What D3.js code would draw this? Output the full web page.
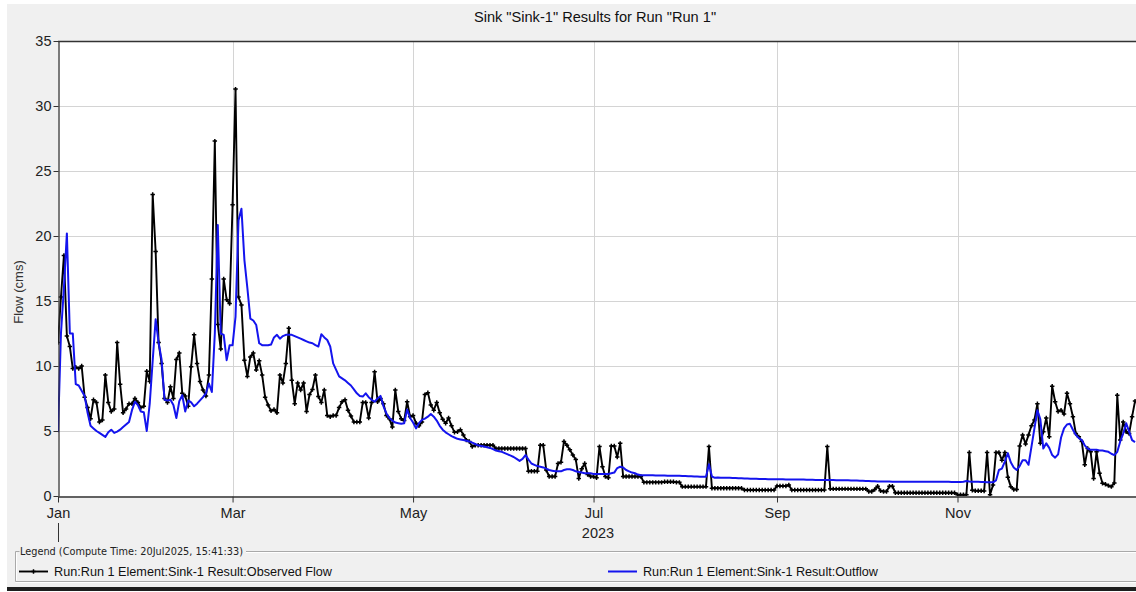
<!DOCTYPE html>
<html>
<head>
<meta charset="utf-8">
<script src="https://cdn.jsdelivr.net/npm/d3@7"></script>
<style>
html,body{margin:0;padding:0;background:#fff;overflow:hidden;}
svg{display:block;}
</style>
</head>
<body>
<svg id="chart" width="1136" height="592"></svg>
<script>
// ---------------- DATA ----------------
const startDate = "2023-01-01";   // first daily value
const titleText = 'Sink "Sink-1" Results for Run "Run 1"';
const yAxisLabel = "Flow (cms)";
const yearLabel = "2023";
const legendTitle = "Legend (Compute Time: 20Jul2025, 15:41:33)";
const seriesNames = ["Run:Run 1 Element:Sink-1 Result:Observed Flow", "Run:Run 1 Element:Sink-1 Result:Outflow"];
const monthTickLabels = ["Jan", "Mar", "May", "Jul", "Sep", "Nov"];
const yTickValues = [0, 5, 10, 15, 20, 25, 30, 35];

// Observed Flow (cms), daily from 1 Jan 2023
const observedFlow = [
  11.8, 15.3, 18.5, 12.3, 11.5, 9.8, 9.9, 9.8, 10.0, 7.6,
  6.8, 5.95, 7.4, 7.2, 5.7, 5.85, 9.3, 7.2, 6.5, 6.7,
  11.8, 8.6, 6.4, 6.7, 7.1, 7.1, 7.5, 7.2, 6.8, 6.9,
  9.6, 8.8, 23.2, 18.8, 11.8, 10.2, 7.5, 7.2, 8.4, 7.5,
  10.5, 11.0, 7.9, 7.7, 6.9, 9.95, 12.4, 10.2, 8.8, 8.15,
  7.7, 9.3, 16.7, 27.3, 13.2, 11.3, 16.7, 15.1, 14.8, 22.4,
  31.3, 15.3, 14.7, 10.45, 9.2, 10.7, 11.0, 9.7, 10.4, 9.3,
  7.6, 7.0, 6.55, 6.65, 6.4, 9.3, 8.7, 10.2, 12.9, 8.9,
  7.1, 8.7, 8.15, 8.7, 6.5, 7.8, 8.2, 9.3, 7.65, 7.2,
  8.15, 6.2, 6.1, 6.2, 6.2, 6.8, 7.25, 7.4, 6.6, 6.15,
  5.7, 5.7, 5.7, 7.2, 7.2, 6.0, 7.2, 9.55, 7.25, 7.5,
  7.1, 6.2, 5.95, 5.3, 8.15, 6.5, 5.95, 5.8, 7.25, 6.1,
  6.2, 5.6, 5.4, 5.7, 7.8, 7.95, 7.0, 6.6, 7.2, 6.4,
  5.9, 5.6, 6.0, 5.4, 4.9, 4.95, 5.1, 4.7, 4.3, 4.2,
  3.8, 3.9, 3.9, 3.9, 3.9, 3.9, 3.9, 3.9, 3.65, 3.65,
  3.65, 3.65, 3.65, 3.65, 3.65, 3.65, 3.65, 3.65, 3.65, 1.9,
  1.9, 1.9, 1.9, 3.9, 3.9, 2.0, 1.5, 1.5, 1.5, 2.5,
  2.6, 4.2, 3.9, 3.55, 3.15, 2.8, 1.35, 2.1, 2.5, 1.65,
  1.5, 1.5, 1.4, 3.8, 2.25, 1.5, 1.4, 3.85, 3.85, 3.0,
  4.05, 1.5, 1.5, 1.5, 1.5, 1.5, 1.5, 1.5, 1.05, 1.05,
  1.05, 1.05, 1.05, 1.05, 1.05, 1.1, 1.1, 1.1, 1.1, 1.05,
  1.05, 0.72, 0.72, 0.72, 0.72, 0.72, 0.72, 0.72, 0.72, 0.72,
  3.8, 0.6, 0.6, 0.6, 0.6, 0.6, 0.6, 0.6, 0.6, 0.6,
  0.6, 0.6, 0.46, 0.46, 0.46, 0.46, 0.46, 0.46, 0.46, 0.46,
  0.46, 0.46, 0.46, 0.77, 0.77, 0.77, 0.77, 0.85, 0.46, 0.46,
  0.46, 0.46, 0.46, 0.46, 0.46, 0.46, 0.46, 0.46, 0.46, 0.46,
  3.8, 0.55, 0.55, 0.55, 0.55, 0.55, 0.55, 0.55, 0.55, 0.55,
  0.55, 0.55, 0.55, 0.55, 0.35, 0.35, 0.5, 0.75, 0.4, 0.35,
  0.35, 0.75, 0.75, 0.25, 0.25, 0.25, 0.25, 0.25, 0.25, 0.25,
  0.25, 0.25, 0.25, 0.25, 0.25, 0.25, 0.25, 0.25, 0.25, 0.25,
  0.25, 0.25, 0.25, 0.25, 0.1, 0.1, 0.1, 0.1, 3.35, 0.45,
  0.4, 0.4, 0.4, 0.38, 3.35, 0.1, 0.85, 3.35, 3.35, 2.75,
  3.35, 1.45, 0.72, 0.5, 0.5, 3.85, 4.7, 4.0, 4.7, 5.4,
  5.85, 7.1, 4.05, 4.95, 6.0, 4.55, 8.45, 7.25, 6.5, 6.6,
  6.3, 7.9, 7.1, 6.1, 4.8, 4.55, 4.2, 2.4, 3.65, 3.4,
  1.35, 3.4, 1.75, 0.98, 0.9, 0.8, 0.72, 1.0, 7.75, 4.3,
  5.7, 4.95, 4.8, 6.1, 7.3
];

// Simulated Outflow (cms), daily from 1 Jan 2023
const outflow = [
  4.9, 12.5, 16.0, 20.2, 12.5, 12.5, 8.6, 8.5, 8.1, 7.7,
  6.4, 5.4, 5.2, 5.0, 4.85, 4.7, 4.55, 4.9, 5.1, 4.85,
  4.95, 5.1, 5.3, 5.5, 5.7, 6.6, 7.25, 7.0, 6.5, 6.45,
  5.0, 7.1, 10.4, 13.6, 11.8, 10.5, 7.4, 7.35, 7.4, 7.0,
  6.0, 7.3, 7.75, 6.5, 7.35, 7.2, 6.9, 7.1, 7.35, 7.6,
  7.9, 8.65, 8.0, 12.5, 20.85, 12.5, 12.4, 10.45, 11.6, 11.6,
  13.8, 21.2, 22.1, 18.15, 16.0, 13.65, 13.5, 13.15, 11.75, 11.6,
  11.6, 11.6, 11.65, 12.2, 12.4, 12.1, 12.3, 12.4, 12.4, 12.4,
  12.3, 12.2, 12.1, 12.0, 11.9, 11.8, 11.75, 11.6, 11.5, 12.45,
  12.2, 12.0, 11.5, 10.2, 9.7, 9.2, 9.05, 8.9, 8.7, 8.5,
  8.2, 7.9, 7.7, 7.65, 7.9, 7.6, 7.4, 7.25, 7.5, 7.7,
  6.9, 6.35, 6.0, 5.8, 5.65, 5.6, 5.55, 5.6, 6.65, 6.0,
  5.65, 5.2, 5.6, 5.85, 5.95, 6.1, 6.3, 6.1, 5.8, 5.4,
  5.1, 4.9, 4.75, 4.6, 4.5, 4.4, 4.35, 4.3, 4.25, 4.2,
  4.1, 4.0, 3.9, 3.85, 3.8, 3.75, 3.7, 3.6, 3.5, 3.45,
  3.4, 3.3, 3.2, 3.1, 3.0, 2.85, 2.7, 2.85, 3.15, 2.8,
  2.5, 2.4, 2.3, 2.25, 2.2, 2.1, 2.0, 1.95, 1.9, 1.9,
  1.9, 2.0, 2.05, 2.05, 2.0, 1.9, 1.85, 1.8, 1.75, 1.75,
  1.75, 1.7, 1.7, 1.7, 1.7, 1.7, 1.7, 1.75, 1.8, 2.15,
  2.25, 2.2, 2.0, 1.9, 1.8, 1.75, 1.65, 1.6, 1.6, 1.6,
  1.6, 1.6, 1.58, 1.58, 1.57, 1.57, 1.56, 1.56, 1.55, 1.55,
  1.55, 1.54, 1.53, 1.52, 1.51, 1.5, 1.5, 1.49, 1.48, 1.48,
  2.45, 1.5, 1.4, 1.42, 1.4, 1.4, 1.4, 1.4, 1.39, 1.38,
  1.37, 1.36, 1.35, 1.34, 1.33, 1.33, 1.32, 1.31, 1.3, 1.3,
  1.29, 1.29, 1.28, 1.28, 1.28, 1.28, 1.27, 1.27, 1.27, 1.27,
  1.26, 1.26, 1.26, 1.25, 1.25, 1.25, 1.24, 1.24, 1.24, 1.23,
  1.23, 1.23, 1.23, 1.22, 1.22, 1.22, 1.21, 1.21, 1.2, 1.2,
  1.19, 1.18, 1.17, 1.16, 1.15, 1.14, 1.13, 1.12, 1.12, 1.11,
  1.11, 1.11, 1.1, 1.1, 1.1, 1.1, 1.1, 1.1, 1.1, 1.1,
  1.1, 1.1, 1.1, 1.1, 1.1, 1.1, 1.1, 1.1, 1.1, 1.1,
  1.09, 1.09, 1.08, 1.08, 1.08, 1.08, 1.1, 1.15, 1.12, 1.1,
  1.1, 1.1, 1.08, 1.07, 1.06, 1.05, 1.05, 1.2, 2.0, 2.1,
  2.65, 3.3, 2.6, 2.2, 2.0, 2.3, 2.75, 2.75, 2.4, 3.8,
  5.2, 6.6, 5.9, 3.65, 4.05, 3.7, 3.15, 2.95, 3.2, 4.5,
  5.2, 5.5, 5.55, 5.1, 4.7, 4.45, 4.3, 3.9, 3.65, 3.55,
  3.55, 3.55, 3.5, 3.5, 3.45, 3.4, 3.25, 3.15, 3.4, 4.2,
  4.8, 5.6, 4.95, 4.3, 4.15
];

// ---------------- CHART ----------------
const svg = d3.select("#chart");
const FONT = "'Liberation Sans', Arial, Helvetica, sans-serif";
const plot = {left: 58, top: 41, right: 1138, bottom: 496};

const t0 = d3.utcParse("%Y-%m-%d")(startDate);
const dates = observedFlow.map((_, i) => d3.utcDay.offset(t0, i));
const x = d3.scaleUtc().domain([t0, d3.utcYear.offset(t0, 1)]).range([plot.left, plot.right]);
const y = d3.scaleLinear().domain([0, 35]).range([plot.bottom, plot.top]);
const monthDates = monthTickLabels.map((_, i) => d3.utcMonth.offset(t0, 2 * i));

// background
svg.append("rect").attr("x", 0).attr("y", 0).attr("width", 1136).attr("height", 592).attr("fill", "#ffffff");
svg.append("rect").attr("x", 7).attr("y", 4).attr("width", 1129).attr("height", 583).attr("fill", "#f0f0f0");
svg.append("rect").attr("x", 7).attr("y", 587).attr("width", 1129).attr("height", 4).attr("fill", "#1e1e1e");

// plot area
svg.append("rect").attr("x", plot.left).attr("y", plot.top)
  .attr("width", plot.right - plot.left).attr("height", plot.bottom - plot.top).attr("fill", "#ffffff");

// title
svg.append("text").attr("x", 595).attr("y", 22).attr("text-anchor", "middle")
  .attr("font-family", FONT).attr("font-size", 14.6).attr("fill", "#111").text(titleText);

// grid
const grid = svg.append("g").attr("stroke", "#d4d4d4").attr("stroke-width", 1);
grid.selectAll("line.h").data(yTickValues.filter(v => v > 0 && v < 35)).join("line")
  .attr("x1", plot.left).attr("x2", plot.right)
  .attr("y1", d => Math.round(y(d)) + 0.5).attr("y2", d => Math.round(y(d)) + 0.5);
grid.selectAll("line.v").data(monthDates.slice(1)).join("line")
  .attr("x1", d => Math.round(x(d)) + 0.5).attr("x2", d => Math.round(x(d)) + 0.5)
  .attr("y1", plot.top).attr("y2", plot.bottom);

// clip
svg.append("clipPath").attr("id", "clip").append("rect")
  .attr("x", plot.left).attr("y", plot.top - 2).attr("width", plot.right - plot.left).attr("height", plot.bottom - plot.top + 2);

const g = svg.append("g").attr("clip-path", "url(#clip)");
const lineGen = d3.line().x((d, i) => x(dates[i])).y(d => y(d));

// observed
g.append("path").datum(observedFlow).attr("d", lineGen)
  .attr("fill", "none").attr("stroke", "#000").attr("stroke-width", 1.9).attr("stroke-linejoin", "round");
const sym = d3.symbol().type(d3.symbolCross).size(11);
g.selectAll("path.mk").data(observedFlow).join("path").attr("class", "mk")
  .attr("transform", (d, i) => `translate(${x(dates[i])},${y(d)})`)
  .attr("d", sym).attr("fill", "#000");

// outflow
g.append("path").datum(outflow).attr("d", lineGen)
  .attr("fill", "none").attr("stroke", "#1414ee").attr("stroke-width", 2).attr("stroke-linejoin", "round");

// frame: top
svg.append("line").attr("x1", plot.left).attr("x2", plot.right).attr("y1", plot.top + 0.5).attr("y2", plot.top + 0.5)
  .attr("stroke", "#333").attr("stroke-width", 1.3);

// y axis
const yAxis = svg.append("g").attr("transform", `translate(${plot.left + 0.5},0)`)
  .call(d3.axisLeft(y).tickValues(yTickValues).tickSize(5).tickSizeOuter(0).tickPadding(2).tickFormat(d3.format("d")));
yAxis.select(".domain").attr("stroke", "#333").attr("stroke-width", 1.3);
yAxis.selectAll(".tick line").attr("stroke", "#333");
yAxis.selectAll(".tick text").attr("font-family", FONT).attr("font-size", 14.5).attr("fill", "#222").attr("dy", "0.34em");

// x axis
const xAxis = svg.append("g").attr("transform", `translate(0,${plot.bottom + 0.5})`)
  .call(d3.axisBottom(x).tickValues(monthDates).tickSize(6).tickSizeOuter(0).tickPadding(5)
    .tickFormat((d, i) => monthTickLabels[i]));
xAxis.select(".domain").attr("stroke", "#333").attr("stroke-width", 1.5);
xAxis.selectAll(".tick line").attr("stroke", "#333");
xAxis.selectAll(".tick text").attr("font-family", FONT).attr("font-size", 14.5).attr("fill", "#222");

// year marker + label
svg.append("line").attr("x1", x(t0) + 0.5).attr("x2", x(t0) + 0.5).attr("y1", 523).attr("y2", 542)
  .attr("stroke", "#333").attr("stroke-width", 1);
svg.append("text").attr("x", 598).attr("y", 538).attr("text-anchor", "middle")
  .attr("font-family", FONT).attr("font-size", 14.5).attr("fill", "#222").text(yearLabel);

// y label
svg.append("text").attr("transform", "translate(23,292) rotate(-90)").attr("text-anchor", "middle")
  .attr("font-family", FONT).attr("font-size", 13).attr("fill", "#333").text(yAxisLabel);

// legend group box
const lg = svg.append("g");
const boxL = 15.5, boxT = 551.5, boxB = 581.5, boxR = 1140;
lg.append("path").attr("d", `M${boxL + 4},${boxT} L${boxL},${boxT} L${boxL},${boxB} L${boxR},${boxB}`)
  .attr("fill", "none").attr("stroke", "#a9a9a9");
lg.append("path").attr("d", `M${boxL + 1},${boxT + 1} L${boxL + 1},${boxB - 1} M${boxL},${boxB + 1} L${boxR},${boxB + 1}`)
  .attr("fill", "none").attr("stroke", "#ffffff");
lg.append("line").attr("x1", 246).attr("x2", boxR).attr("y1", boxT).attr("y2", boxT).attr("stroke", "#a9a9a9");
lg.append("line").attr("x1", 246).attr("x2", boxR).attr("y1", boxT + 1).attr("y2", boxT + 1).attr("stroke", "#ffffff");
lg.append("text").attr("x", 20).attr("y", 555).attr("font-family", "'DejaVu Sans', Tahoma, sans-serif")
  .attr("font-size", 11).attr("fill", "#222").attr("textLength", 223).attr("lengthAdjust", "spacingAndGlyphs")
  .text(legendTitle);

// legend items
const legendItems = [
  {name: seriesNames[0], color: "#000", x0: 19, marker: true, width: 1.9, len: 278},
  {name: seriesNames[1], color: "#1414ee", x0: 608, marker: false, width: 2, len: 235}
];
legendItems.forEach(it => {
  lg.append("line").attr("x1", it.x0).attr("x2", it.x0 + 29).attr("y1", 571.5).attr("y2", 571.5)
    .attr("stroke", it.color).attr("stroke-width", it.width);
  if (it.marker) lg.append("path").attr("transform", `translate(${it.x0 + 14.5},571.5)`).attr("d", sym).attr("fill", "#000");
  lg.append("text").attr("x", it.x0 + 35).attr("y", 576).attr("font-family", FONT).attr("font-size", 12.7)
    .attr("fill", "#111").attr("textLength", it.len).attr("lengthAdjust", "spacingAndGlyphs").text(it.name);
});
</script>
</body>
</html>
